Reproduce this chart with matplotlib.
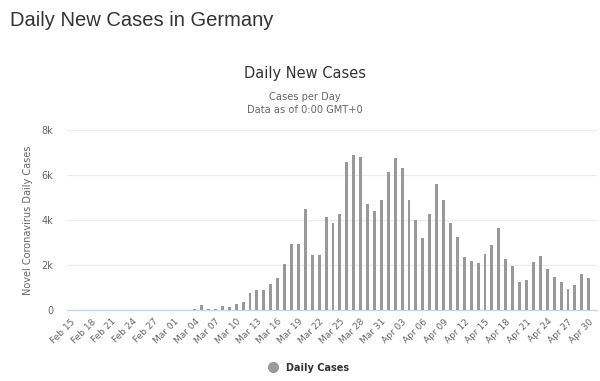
"""
Daily new COVID-19 cases in Germany, Feb 15 - Apr 30 (bar chart).
"""

import pandas as pd
import matplotlib
matplotlib.use("Agg")
import matplotlib.pyplot as plt
from matplotlib.ticker import FuncFormatter

dates = pd.date_range("2020-02-15", "2020-04-30", freq="D")
date_labels = [d.strftime("%b %d") for d in dates]

# Feb 15 - Feb 29
feb_cases = [0, 0, 0, 0, 0, 0, 0, 0, 0, 0, 2, 6, 2, 10, 8]
# Mar 01 - Mar 31
mar_cases = [12, 10, 12, 45, 250, 45, 45, 180, 130, 280,
             355, 755, 890, 890, 1155, 1405, 2045, 2920, 2950, 4490,
             2445, 2445, 4130, 3865, 4280, 6560, 6870, 6780, 4695, 4400,
             4890]
# Apr 01 - Apr 30
apr_cases = [6130, 6750, 6295, 4890, 3985, 3200, 4250, 5600, 4890, 3865,
             3245, 2355, 2160, 2075, 2490, 2900, 3645, 2265, 1970, 1260,
             1335, 2150, 2415, 1820, 1450, 1230, 920, 1110, 1600, 1405]

daily_cases = feb_cases + mar_cases + apr_cases
series_name = "Daily Cases"
y_ticks = [0, 2000, 4000, 6000, 8000]

BAR = "#999999"
TEXT = "#666666"

fig = plt.figure(figsize=(6.0, 3.81), dpi=100)
ax = fig.add_axes([0.112, 0.186, 0.883, 0.473])

x = list(range(len(daily_cases)))
ax.bar(x, daily_cases, width=0.42, color=BAR, zorder=3)

ax.set_xlim(-0.45, len(x) + 0.2)
ax.set_ylim(0, 8000)
ax.set_yticks(y_ticks)
ax.yaxis.set_major_formatter(FuncFormatter(lambda v, _: "0" if v == 0 else f"{int(v/1000)}k"))
ax.grid(axis="y", color="#ececec", linewidth=0.9, zorder=0)
ax.tick_params(axis="y", length=0, labelsize=7, labelcolor=TEXT, pad=10)

ax.set_xticks(x[::3])
ax.set_xticklabels(date_labels[::3], rotation=45, ha="right",
                   rotation_mode="anchor", fontsize=6.5, color=TEXT)
ax.tick_params(axis="x", length=0, pad=5)

for side in ["top", "right", "left"]:
    ax.spines[side].set_visible(False)
ax.spines["bottom"].set_color("#ccd6eb")
ax.spines["bottom"].set_linewidth(1)

ax.set_ylabel("Novel Coronavirus Daily Cases", fontsize=7, color=TEXT, labelpad=6)

fig.text(0.017, 0.945, "Daily New Cases in Germany", fontsize=14.5, color="#333333",
         va="center", ha="left", family="Liberation Sans")
fig.text(0.508, 0.808, "Daily New Cases", fontsize=10.5, color="#333333",
         va="center", ha="center")
fig.text(0.508, 0.745, "Cases per Day", fontsize=7.1, color=TEXT,
         va="center", ha="center")
fig.text(0.508, 0.71, "Data as of 0:00 GMT+0", fontsize=7.1, color=TEXT,
         va="center", ha="center")

fig.legend(handles=[plt.Line2D([], [], marker="o", linestyle="", markersize=7,
                               color=BAR, label=series_name)],
           loc="center", bbox_to_anchor=(0.51, 0.035), frameon=False,
           handletextpad=0.3, prop={"size": 7, "weight": "bold"},
           labelcolor="#333333")

fig.savefig("out.png", dpi=100)
